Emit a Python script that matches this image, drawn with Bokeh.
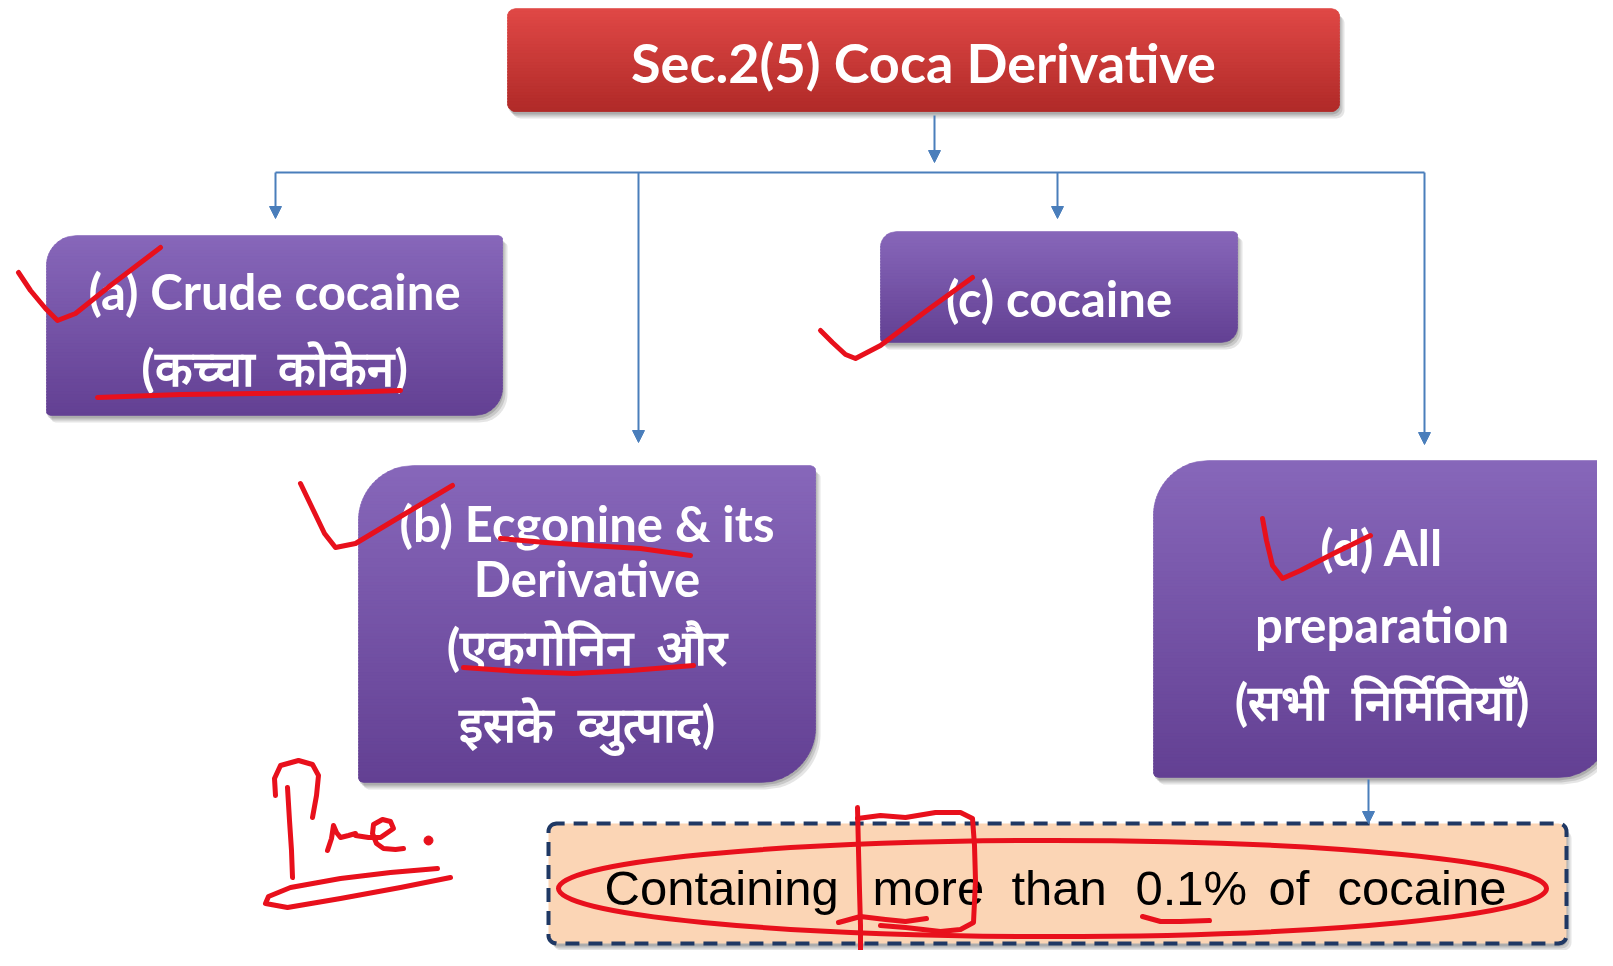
import math
from bokeh.plotting import figure
from bokeh.models import Range1d, Arrow, NormalHead
from bokeh.core.properties import value
from bokeh.embed import file_html
from bokeh.resources import INLINE

# ---------------- content ----------------
title_text = "Sec.2(5) Coca Derivative"
node_names = ["a", "b", "c", "d"]
SP = "\u00a0\u00a0"
node_lines = {
    "a": ["(a) Crude cocaine", "(कच्चा" + SP + "कोकेन)"],
    "b": ["(b) Ecgonine & its", "Derivative", "(एकगोनिन" + SP + "और", "इसके" + SP + "व्युत्पाद)"],
    "c": ["(c) cocaine"],
    "d": ["(d) All", "preparation", "(सभी" + SP + "निर्मितियाँ)"],
}
note_words = ["Containing", "more", "than", "0.1%", "of", "cocaine"]

# ---------------- layout (page pixel coordinates) ----------------
title_box = (507, 1339, 8, 111)
title_radius = (8, 8, 8, 8)
node_boxes = {
    "a": (46, 502, 235, 415),
    "b": (358, 815, 465, 782),
    "c": (880, 1237, 231, 342),
    "d": (1153, 1610, 460, 777),
}
node_radii = {
    "a": (30, 4, 28, 4),
    "b": (55, 5, 55, 5),
    "c": (16, 4, 16, 4),
    "d": (55, 5, 52, 5),
}
node_line_y = {
    "a": [290, 366],
    "b": [522, 577, 645, 722],
    "c": [297],
    "d": [546, 623, 700],
}
note_box = (548, 1566, 823, 943)
note_word_x = [604, 872, 1011, 1135, 1268, 1337]
note_text_y = 887

trunk = (934, 115, 162)
bus_y = 172
bus_x = (275, 1424)
drop_x = {"a": 275, "b": 638, "c": 1057, "d": 1424}
drop_end = {"a": 218, "b": 442, "c": 218, "d": 444}
note_arrow = (1368, 779, 823)

# red hand annotations
ink_strokes = [
    # check marks
    ([18, 30, 45, 57, 75, 110, 160], [272, 290, 308, 320, 313, 285, 247]),
    ([300, 312, 324, 335, 355, 400, 452], [483, 508, 533, 547, 543, 516, 485]),
    ([820, 832, 845, 855, 880, 925, 972], [330, 342, 354, 358, 345, 311, 277]),
    ([1262, 1266, 1272, 1282, 1300, 1335, 1370], [518, 540, 565, 578, 570, 552, 535]),
    # underlines
    ([97, 180, 260, 340, 400], [397, 394, 393, 392, 390]),
    ([500, 545, 590, 640, 690], [538, 542, 545, 548, 555]),
    ([463, 520, 573, 630, 693], [667, 671, 673, 670, 665]),
    # "Pre."
    ([287, 289, 291, 292], [787, 820, 850, 877]),
    ([275, 274, 280, 298, 312, 318, 316, 312], [795, 778, 765, 760, 764, 775, 795, 817]),
    ([327, 331, 333, 336, 340, 348, 355], [850, 838, 825, 832, 837, 835, 833]),
    ([355, 368, 380, 393, 390, 382, 373, 372, 376, 383, 395, 403], [835, 837, 837, 828, 821, 819, 824, 833, 843, 848, 849, 848]),
    ([437, 390, 340, 290, 268, 265, 287, 340, 400, 450], [868, 872, 878, 887, 896, 903, 907, 898, 887, 877]),
    # circled note
    ([857, 858, 859, 860, 860, 861], [807, 850, 890, 925, 950, 966]),
    ([857, 880, 905, 935, 960, 972, 974, 975, 973, 960, 940, 905, 880],
     [818, 815, 817, 812, 812, 818, 845, 880, 922, 929, 931, 927, 925]),
    ([838, 860, 885, 905, 926], [922, 916, 919, 921, 918]),
    ([1142, 1160, 1180, 1209], [916, 921, 921, 920]),
]
ink_dots = ([428], [840])
ellipse_spec = (1052, 888, 988, 96)

# ---------------- colours ----------------
purple_top, purple_bot = "#8767ba", "#634093"
red_top, red_bot = "#e04846", "#b02a28"
peach = "#fbd5b5"
navy = "#1f3864"
blue = "#4a7ebb"
ink = "#e8101c"


def mix(c1, c2, t):
    a = [int(c1[i:i + 2], 16) for i in (1, 3, 5)]
    b = [int(c2[i:i + 2], 16) for i in (1, 3, 5)]
    return "#%02x%02x%02x" % tuple(round(a[k] + (b[k] - a[k]) * t) for k in range(3))


def bounds(y, box, r):
    x0, x1, y0, y1 = box
    tl, tr, br, bl = r
    xl, xr = x0, x1
    if tl and y < y0 + tl:
        d = y0 + tl - y
        xl = x0 + tl - math.sqrt(max(tl * tl - d * d, 0))
    if bl and y > y1 - bl:
        d = y - (y1 - bl)
        xl = x0 + bl - math.sqrt(max(bl * bl - d * d, 0))
    if tr and y < y0 + tr:
        d = y0 + tr - y
        xr = x1 - tr + math.sqrt(max(tr * tr - d * d, 0))
    if br and y > y1 - br:
        d = y - (y1 - br)
        xr = x1 - br + math.sqrt(max(br * br - d * d, 0))
    return xl, xr


def outline(box, r, dx=0, dy=0, n=160):
    x0, x1, y0, y1 = box
    ys = [y0 + (y1 - y0) * i / n for i in range(n + 1)]
    left = [(bounds(y, box, r)[0] + dx, y + dy) for y in ys]
    right = [(bounds(y, box, r)[1] + dx, y + dy) for y in reversed(ys)]
    pts = left + right
    return [p[0] for p in pts], [p[1] for p in pts]


def gradient(box, r, ctop, cbot, step=3.0):
    x0, x1, y0, y1 = box
    xs, ys, cs = [], [], []
    y = y0
    while y < y1:
        yb = min(y + step, y1)
        yb2 = min(yb + 0.8, y1)
        samp = [y + (yb2 - y) * k / 3 for k in range(4)]
        lx = [bounds(s, box, r)[0] for s in samp]
        rx = [bounds(s, box, r)[1] for s in reversed(samp)]
        xs.append(lx + rx)
        ys.append(samp + list(reversed(samp)))
        cs.append(mix(ctop, cbot, ((y + yb) / 2 - y0) / (y1 - y0)))
        y = yb
    return xs, ys, cs


p = figure(width=1597, height=950, output_backend="svg", toolbar_location=None,
           x_range=Range1d(0, 1597), y_range=Range1d(950, 0),
           x_axis_location=None, y_axis_location=None, min_border=0,
           outline_line_color=None, background_fill_color="white")
p.grid.visible = False


def shadow(box, r):
    for dx, dy, a in [(5, 7, 0.10), (3, 5, 0.12), (1, 3, 0.14)]:
        sx, sy = outline(box, r, dx, dy)
        p.patch(sx, sy, fill_color="#000000", fill_alpha=a, line_color=None)


def fancy_box(box, r, ctop, cbot):
    shadow(box, r)
    xs, ys, cs = gradient(box, r, ctop, cbot)
    p.patches(xs, ys, fill_color=cs, line_color=cs, line_width=0.6)


# connectors
def arrow(x0, y0, x1, y1):
    p.add_layout(Arrow(end=NormalHead(size=12, fill_color=blue, line_color=blue),
                       x_start=x0, y_start=y0, x_end=x1, y_end=y1,
                       line_color=blue, line_width=2))


arrow(trunk[0], trunk[1], trunk[0], trunk[2])
p.line([bus_x[0], bus_x[1]], [bus_y, bus_y], line_color=blue, line_width=2)
for k in node_names:
    arrow(drop_x[k], bus_y, drop_x[k], drop_end[k])
arrow(note_arrow[0], note_arrow[1], note_arrow[0], note_arrow[2])

# title
fancy_box(title_box, title_radius, red_top, red_bot)
p.text(x=[(title_box[0] + title_box[1]) / 2], y=[(title_box[2] + title_box[3]) / 2 + 2],
       text=[title_text], text_color="white", text_font=value("Lato"), text_font_style="bold",
       text_font_size="54px", text_align="center", text_baseline="middle")

# nodes
for k in node_names:
    fancy_box(node_boxes[k], node_radii[k], purple_top, purple_bot)
    cx = (node_boxes[k][0] + node_boxes[k][1]) / 2
    p.text(x=[cx] * len(node_lines[k]), y=node_line_y[k], text=node_lines[k],
           text_color="white", text_font=value("Lato"), text_font_style="bold",
           text_font_size="49px", text_align="center", text_baseline="middle")

# note box
nr = (8, 8, 8, 8)
shadow(note_box, nr)
nx, ny = outline(note_box, nr)
p.patch(nx, ny, fill_color=peach, line_color=navy, line_width=4, line_dash="14 9")
p.text(x=note_word_x, y=[note_text_y] * len(note_words), text=note_words,
       text_color="black", text_font=value("Liberation Sans"),
       text_font_size="49px", text_align="left", text_baseline="middle")

# ink annotations
for sx, sy in ink_strokes:
    p.line(sx, sy, line_color=ink, line_width=5, line_cap="round", line_join="round")
p.scatter(ink_dots[0], ink_dots[1], size=9, color=ink)
p.ellipse(x=[ellipse_spec[0]], y=[ellipse_spec[1]], width=[ellipse_spec[2]],
          height=[ellipse_spec[3]], fill_color=None, line_color=ink, line_width=5)

open("out.html", "w").write(file_html(p, INLINE))
